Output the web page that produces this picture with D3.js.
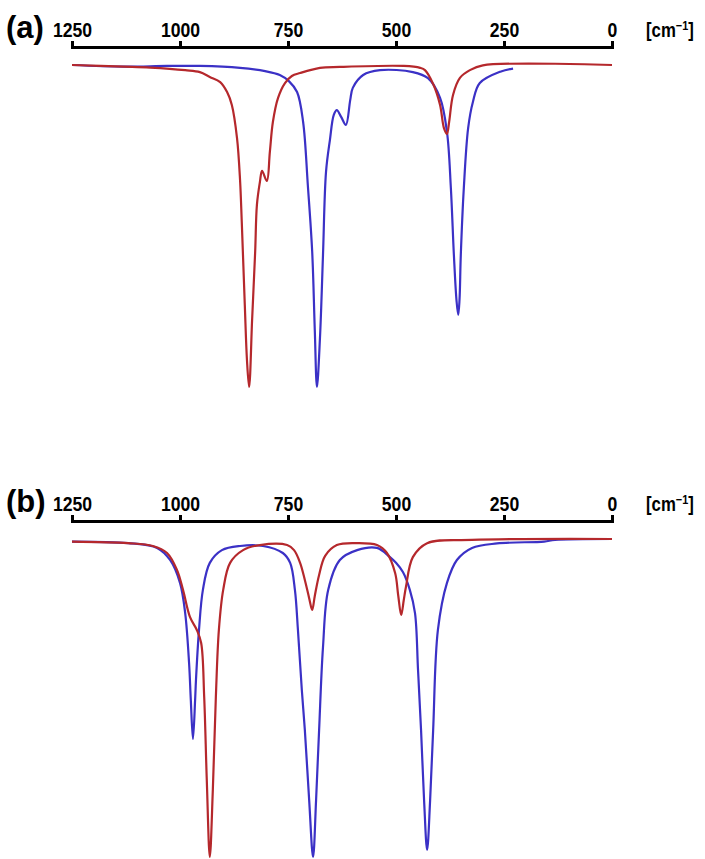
<!DOCTYPE html>
<html>
<head>
<meta charset="utf-8">
<script src="https://cdn.jsdelivr.net/npm/d3@7"></script>
<style>
  html,body{margin:0;padding:0;background:#fff}
  svg{display:block}
</style>
</head>
<body>
<div id="chart"></div>
<script>
// wavenumber [cm-1] and relative transmittance (0 = deepest band, 100 = baseline)
var ticksCm = [1250, 1000, 750, 500, 250, 0];

var aRedW = [1250,1130,1069,988,954,931,907,891,880,868,861,857,850,845,840,833,826,822,815,810,799,792,785,773,757,741,722,676,630,482,444,433,414,398,389,382,377,368,352,329,299,0];
var aRedT = [100,99.5,99.2,98.4,97.8,96.3,94.7,91.6,87.6,77.3,64.3,51.2,25.5,8.4,0,21.1,42.0,56.5,63.7,67.1,64.0,73.0,82.3,89.8,94.4,96.6,97.5,99.1,99.4,99.7,99.1,98.4,94.1,87.6,80.4,78.6,82.3,90.7,96.0,98.4,99.9,100];

var aBlueW = [1250,1130,1030,954,861,803,769,748,729,715,704,694,688,683,676,669,662,653,644,637,627,616,606,600,576,537,461,426,398,382,373,366,360,356,353,350,343,333,322,306,257,229];
var aBlueT = [100,99.5,99.7,99.7,99.1,98.1,96.9,95.0,91.6,82.3,62.5,42.0,17.7,0,15.2,41.0,66.8,76.7,84.5,86.0,83.9,81.4,89.1,92.9,96.9,98.4,97.8,95.9,89.8,79.2,61.8,41.0,27.0,22.4,27.0,41.0,61.8,80.4,88.5,94.4,98.0,98.9];

var bRedW = [1250,1120,1063,1030,1007,993,977,961,951,944,938,931,924,917,910,900,884,854,815,752,736,722,711,701,694,688,678,664,637,590,544,521,502,495,488,482,477,461,428,324,0];
var bRedT = [99.2,98.7,97.8,95.6,90.3,84.0,75.5,71.4,67.3,50.3,24.2,0,21.1,50.3,71.4,84.0,92.5,96.5,98.1,98.1,96.5,92.5,87.1,81.4,77.7,82.1,88.7,94.7,98.1,98.7,98.1,95.6,89.3,82.4,76.1,80.8,84.9,94.3,98.7,99.7,100];

var bBlueW = [1250,1120,1053,1023,1000,988,979,975,970,965,963,956,947,931,903,861,808,762,745,734,727,718,711,701,692,685,678,669,657,630,590,544,514,500,484,468,456,449,442,435,428,421,414,403,382,359,324,266,157,132,0];
var bBlueT = [99.2,98.7,97.2,93.4,86.2,76.7,61.0,49.4,37.1,49.4,55.7,71.4,84.0,92.5,96.5,97.8,97.8,95.6,92.5,84.0,71.4,52.5,39.9,17.9,0,17.9,39.9,66.0,84.0,93.4,96.5,97.2,94.3,92.5,89.6,84.0,76.7,58.8,39.9,17.9,2.2,17.9,39.9,71.4,86.2,93.4,97.2,98.6,99.2,99.7,100];

var W = 705, H = 859;
var RED = '#b5282c', BLUE = '#3b31c6';
var FONT = '"Liberation Sans",Arial,sans-serif';
var SQUEEZE = 0.84; // the reference lettering is a condensed bold face

var svg = d3.select('#chart').append('svg').attr('width', W).attr('height', H);

var x = d3.scaleLinear().domain([1250, 0]).range([72, 612]);

function zip(ws, ts){ return ws.map(function(w,i){ return {w:w, t:ts[i]}; }); }

function panel(tag, axisY, yTop, yBot, series){
  var y = d3.scaleLinear().domain([0, 100]).range([yBot, yTop]);

  var ax = svg.append('g').attr('transform', 'translate(0,' + axisY + ')')
    .call(d3.axisTop(x).tickValues(ticksCm).tickFormat(d3.format('d')).tickSize(6).tickSizeOuter(6).tickPadding(4));
  ax.select('.domain').attr('stroke', '#000').attr('stroke-width', 3).attr('stroke-linejoin', 'miter');
  ax.selectAll('.tick line').attr('stroke', '#000').attr('stroke-width', 3);
  ax.selectAll('.tick text').attr('fill', '#000').attr('font-family', FONT).attr('font-weight', 'bold')
    .attr('font-size', 21).attr('transform', 'scale(' + SQUEEZE + ',1)');

  svg.append('text').attr('x', 6).attr('y', axisY - 9).attr('font-family', FONT).attr('font-weight', 'bold').attr('font-size', 31).text(tag);

  var u = svg.append('text').attr('transform', 'translate(646,' + (axisY - 10) + ') scale(' + SQUEEZE + ',1)')
    .attr('font-family', FONT).attr('font-weight', 'bold').attr('font-size', 20);
  u.append('tspan').text('[cm');
  u.append('tspan').attr('font-size', 13).attr('dy', -7).text('\u2212' + '1');
  u.append('tspan').attr('dy', 7).text(']');

  var line = d3.line().x(function(d){ return x(d.w); }).y(function(d){ return y(d.t); }).curve(d3.curveCatmullRom.alpha(0.5));
  series.forEach(function(s){
    svg.append('path').datum(s.data).attr('d', line).attr('fill', 'none')
      .attr('stroke', s.color).attr('stroke-width', 2.2).attr('stroke-linejoin', 'round');
  });
}

panel('(a)', 47, 65, 387, [
  {color: BLUE, data: zip(aBlueW, aBlueT)},
  {color: RED, data: zip(aRedW, aRedT)}
]);
panel('(b)', 521, 539, 857, [
  {color: BLUE, data: zip(bBlueW, bBlueT)},
  {color: RED, data: zip(bRedW, bRedT)}
]);
</script>
</body>
</html>
